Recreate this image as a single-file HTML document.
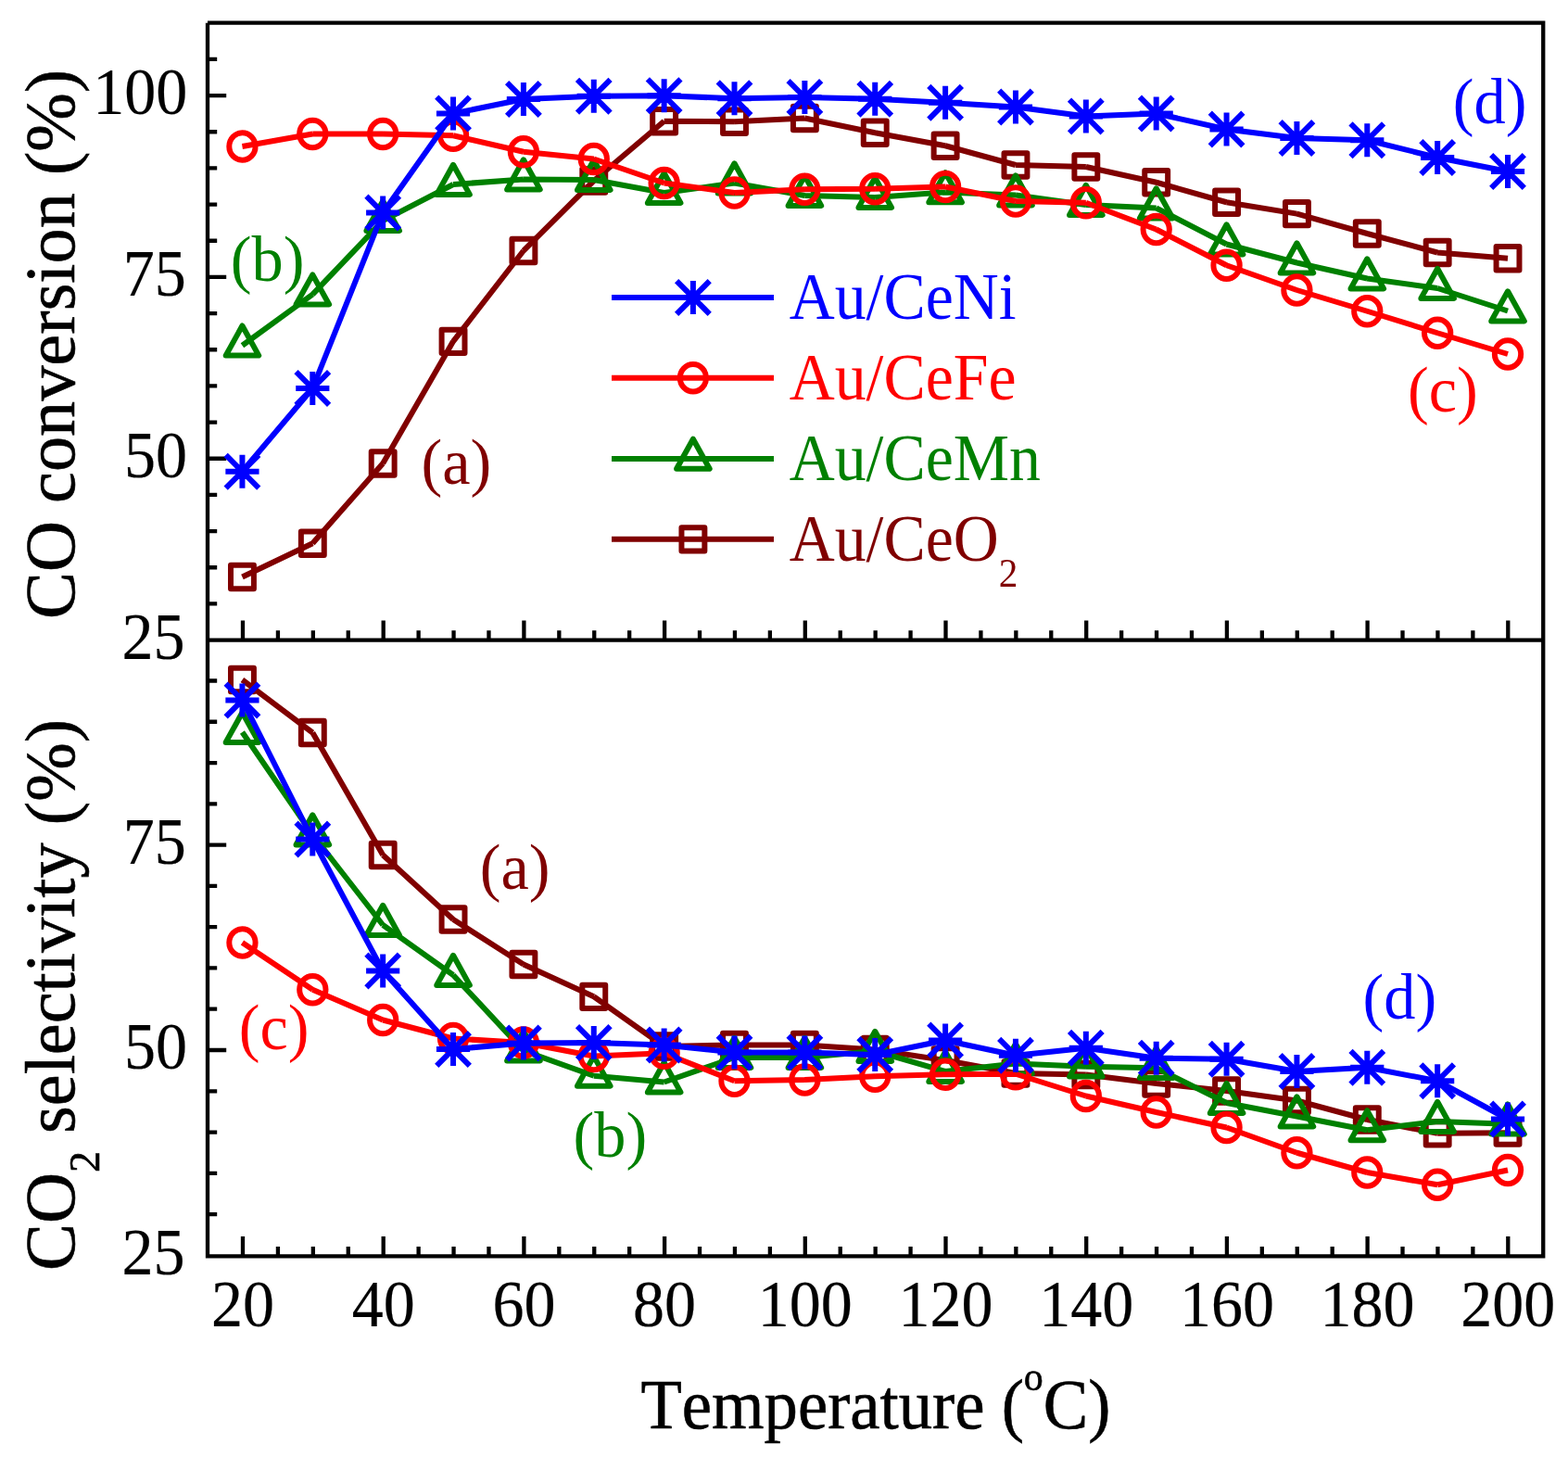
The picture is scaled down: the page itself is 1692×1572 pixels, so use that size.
<!DOCTYPE html>
<html lang="en"><head><meta charset="utf-8"><title>CO conversion and CO2 selectivity vs temperature</title>
<style>html,body{margin:0;padding:0;background:#fff}body{width:1692px;height:1572px;overflow:hidden}svg{display:block}</style>
</head><body>
<svg width="1692" height="1572" viewBox="0 0 1692 1572" font-family="'Liberation Serif', serif" style="font-kerning:none;font-variant-ligatures:none">
<rect width="1692" height="1572" fill="#fff"/>
<g stroke="#000" stroke-width="4.3" fill="none">
<path d="M224.0 24.7V1357.45M1665.25 22.55V1357.45M224.0 24.7H1665.25M224.0 690.6H1665.25M224.0 1355.3H1667.4"/>
<path d="M262 690.6v-21.2M262 1355.3v-21.2M299.93 690.6v-10.4M299.93 1355.3v-10.4M337.85 690.6v-10.4M337.85 1355.3v-10.4M375.77 690.6v-10.4M375.77 1355.3v-10.4M413.7 690.6v-21.2M413.7 1355.3v-21.2M451.62 690.6v-10.4M451.62 1355.3v-10.4M489.55 690.6v-10.4M489.55 1355.3v-10.4M527.47 690.6v-10.4M527.47 1355.3v-10.4M565.4 690.6v-21.2M565.4 1355.3v-21.2M603.33 690.6v-10.4M603.33 1355.3v-10.4M641.25 690.6v-10.4M641.25 1355.3v-10.4M679.17 690.6v-10.4M679.17 1355.3v-10.4M717.1 690.6v-21.2M717.1 1355.3v-21.2M755.02 690.6v-10.4M755.02 1355.3v-10.4M792.95 690.6v-10.4M792.95 1355.3v-10.4M830.88 690.6v-10.4M830.88 1355.3v-10.4M868.8 690.6v-21.2M868.8 1355.3v-21.2M906.72 690.6v-10.4M906.72 1355.3v-10.4M944.65 690.6v-10.4M944.65 1355.3v-10.4M982.57 690.6v-10.4M982.57 1355.3v-10.4M1020.5 690.6v-21.2M1020.5 1355.3v-21.2M1058.42 690.6v-10.4M1058.42 1355.3v-10.4M1096.35 690.6v-10.4M1096.35 1355.3v-10.4M1134.28 690.6v-10.4M1134.28 1355.3v-10.4M1172.2 690.6v-21.2M1172.2 1355.3v-21.2M1210.12 690.6v-10.4M1210.12 1355.3v-10.4M1248.05 690.6v-10.4M1248.05 1355.3v-10.4M1285.97 690.6v-10.4M1285.97 1355.3v-10.4M1323.9 690.6v-21.2M1323.9 1355.3v-21.2M1361.82 690.6v-10.4M1361.82 1355.3v-10.4M1399.75 690.6v-10.4M1399.75 1355.3v-10.4M1437.67 690.6v-10.4M1437.67 1355.3v-10.4M1475.6 690.6v-21.2M1475.6 1355.3v-21.2M1513.52 690.6v-10.4M1513.52 1355.3v-10.4M1551.45 690.6v-10.4M1551.45 1355.3v-10.4M1589.38 690.6v-10.4M1589.38 1355.3v-10.4M1627.3 690.6v-21.2M1627.3 1355.3v-21.2"/>
<path d="M224.0 63.93h10.2M224.0 103.1h20.2M224.0 142.27h10.2M224.0 181.43h10.2M224.0 220.6h10.2M224.0 259.77h10.2M224.0 298.93h20.2M224.0 338.1h10.2M224.0 377.27h10.2M224.0 416.43h10.2M224.0 455.6h10.2M224.0 494.77h20.2M224.0 533.93h10.2M224.0 573.1h10.2M224.0 612.27h10.2M224.0 651.43h10.2M224.0 1310.12h10.2M224.0 1265.84h10.2M224.0 1221.56h10.2M224.0 1177.28h10.2M224.0 1133h20.2M224.0 1088.72h10.2M224.0 1044.44h10.2M224.0 1000.16h10.2M224.0 955.88h10.2M224.0 911.6h20.2M224.0 867.32h10.2M224.0 823.04h10.2M224.0 778.76h10.2M224.0 734.48h10.2"/>
</g>
<g fill="none" stroke="#800000" stroke-width="6.0" stroke-linejoin="round">
<path d="M261.45 622.5L337.31 586.25M337.31 586.25L413.18 500M413.18 500L489.04 368.3M489.04 368.3L564.91 270.5M564.91 270.5L640.77 195M640.77 195L716.64 130.75M716.64 130.75L792.5 131.25M792.5 131.25L868.37 127.5M868.37 127.5L944.23 143.25M944.23 143.25L1020.1 157.25M1020.1 157.25L1095.96 178M1095.96 178L1171.83 180M1171.83 180L1247.69 196.75M1247.69 196.75L1323.56 218.25M1323.56 218.25L1399.42 230.6M1399.42 230.6L1475.29 252M1475.29 252L1551.15 272.5M1551.15 272.5L1627.02 278.75"/>
<path d="M249 609.85H273.9V635.15H249ZM324.87 573.6H349.76V598.9H324.87ZM400.73 487.35H425.63V512.65H400.73ZM476.59 355.65H501.49V380.95H476.59ZM552.46 257.85H577.36V283.15H552.46ZM628.32 182.35H653.23V207.65H628.32ZM704.19 118.1H729.09V143.4H704.19ZM780.05 118.6H804.95V143.9H780.05ZM855.92 114.85H880.82V140.15H855.92ZM931.78 130.6H956.68V155.9H931.78ZM1007.65 144.6H1032.55V169.9H1007.65ZM1083.51 165.35H1108.41V190.65H1083.51ZM1159.38 167.35H1184.28V192.65H1159.38ZM1235.24 184.1H1260.14V209.4H1235.24ZM1311.11 205.6H1336.01V230.9H1311.11ZM1386.97 217.95H1411.88V243.25H1386.97ZM1462.84 239.35H1487.74V264.65H1462.84ZM1538.7 259.85H1563.61V285.15H1538.7ZM1614.57 266.1H1639.47V291.4H1614.57Z"/>
</g>
<g fill="none" stroke="#008000" stroke-width="6.0" stroke-linejoin="round">
<path d="M261.45 372.7L337.31 317.6M337.31 317.6L413.18 238.1M413.18 238.1L489.04 199M489.04 199L564.91 193.5M564.91 193.5L640.77 194M640.77 194L716.64 208M716.64 208L792.5 197.5M792.5 197.5L868.37 211M868.37 211L944.23 213M944.23 213L1020.1 207.4M1020.1 207.4L1095.96 210.5M1095.96 210.5L1171.83 221M1171.83 221L1247.69 224.5M1247.69 224.5L1323.56 263.5M1323.56 263.5L1399.42 283.5M1399.42 283.5L1475.29 300.5M1475.29 300.5L1551.15 311M1551.15 311L1627.02 335.5"/>
<path d="M243.65 383.6L261.45 351.5L279.25 383.6ZM319.51 328.5L337.31 296.4L355.12 328.5ZM395.38 249L413.18 216.9L430.98 249ZM471.24 209.9L489.04 177.8L506.84 209.9ZM547.11 204.4L564.91 172.3L582.71 204.4ZM622.98 204.9L640.77 172.8L658.57 204.9ZM698.84 218.9L716.64 186.8L734.44 218.9ZM774.7 208.4L792.5 176.3L810.3 208.4ZM850.57 221.9L868.37 189.8L886.17 221.9ZM926.43 223.9L944.23 191.8L962.03 223.9ZM1002.3 218.3L1020.1 186.2L1037.9 218.3ZM1078.16 221.4L1095.96 189.3L1113.76 221.4ZM1154.03 231.9L1171.83 199.8L1189.63 231.9ZM1229.89 235.4L1247.69 203.3L1265.49 235.4ZM1305.76 274.4L1323.56 242.3L1341.36 274.4ZM1381.62 294.4L1399.42 262.3L1417.22 294.4ZM1457.49 311.4L1475.29 279.3L1493.09 311.4ZM1533.36 321.9L1551.15 289.8L1568.95 321.9ZM1609.22 346.4L1627.02 314.3L1644.82 346.4Z"/>
</g>
<g fill="none" stroke="#ff0000" stroke-width="6.0" stroke-linejoin="round">
<path d="M261.45 158L337.31 144.5M337.31 144.5L413.18 144.5M413.18 144.5L489.04 146.25M489.04 146.25L564.91 163.75M564.91 163.75L640.77 171.5M640.77 171.5L716.64 197.5M716.64 197.5L792.5 208M792.5 208L868.37 204.25M868.37 204.25L944.23 203.75M944.23 203.75L1020.1 201.5M1020.1 201.5L1095.96 217M1095.96 217L1171.83 218.75M1171.83 218.75L1247.69 247.5M1247.69 247.5L1323.56 286.25M1323.56 286.25L1399.42 313M1399.42 313L1475.29 335.75M1475.29 335.75L1551.15 359.25M1551.15 359.25L1627.02 382"/>
<path d="M247.3 158a14.15 14.7 0 1 0 28.3 0a14.15 14.7 0 1 0 -28.3 0ZM323.17 144.5a14.15 14.7 0 1 0 28.3 0a14.15 14.7 0 1 0 -28.3 0ZM399.03 144.5a14.15 14.7 0 1 0 28.3 0a14.15 14.7 0 1 0 -28.3 0ZM474.89 146.25a14.15 14.7 0 1 0 28.3 0a14.15 14.7 0 1 0 -28.3 0ZM550.76 163.75a14.15 14.7 0 1 0 28.3 0a14.15 14.7 0 1 0 -28.3 0ZM626.62 171.5a14.15 14.7 0 1 0 28.3 0a14.15 14.7 0 1 0 -28.3 0ZM702.49 197.5a14.15 14.7 0 1 0 28.3 0a14.15 14.7 0 1 0 -28.3 0ZM778.35 208a14.15 14.7 0 1 0 28.3 0a14.15 14.7 0 1 0 -28.3 0ZM854.22 204.25a14.15 14.7 0 1 0 28.3 0a14.15 14.7 0 1 0 -28.3 0ZM930.08 203.75a14.15 14.7 0 1 0 28.3 0a14.15 14.7 0 1 0 -28.3 0ZM1005.95 201.5a14.15 14.7 0 1 0 28.3 0a14.15 14.7 0 1 0 -28.3 0ZM1081.81 217a14.15 14.7 0 1 0 28.3 0a14.15 14.7 0 1 0 -28.3 0ZM1157.68 218.75a14.15 14.7 0 1 0 28.3 0a14.15 14.7 0 1 0 -28.3 0ZM1233.54 247.5a14.15 14.7 0 1 0 28.3 0a14.15 14.7 0 1 0 -28.3 0ZM1309.41 286.25a14.15 14.7 0 1 0 28.3 0a14.15 14.7 0 1 0 -28.3 0ZM1385.27 313a14.15 14.7 0 1 0 28.3 0a14.15 14.7 0 1 0 -28.3 0ZM1461.14 335.75a14.15 14.7 0 1 0 28.3 0a14.15 14.7 0 1 0 -28.3 0ZM1537 359.25a14.15 14.7 0 1 0 28.3 0a14.15 14.7 0 1 0 -28.3 0ZM1612.87 382a14.15 14.7 0 1 0 28.3 0a14.15 14.7 0 1 0 -28.3 0Z"/>
</g>
<g fill="none" stroke="#0000ff" stroke-width="6.0" stroke-linejoin="round">
<path d="M261.45 508.75L337.31 419M337.31 419L413.18 229.5M413.18 229.5L489.04 122.5M489.04 122.5L564.91 107M564.91 107L640.77 103.75M640.77 103.75L716.64 103.25M716.64 103.25L792.5 106.25M792.5 106.25L868.37 105M868.37 105L944.23 106.75M944.23 106.75L1020.1 110.75M1020.1 110.75L1095.96 115.5M1095.96 115.5L1171.83 125.5M1171.83 125.5L1247.69 122.5M1247.69 122.5L1323.56 139.5M1323.56 139.5L1399.42 149M1399.42 149L1475.29 151.25M1475.29 151.25L1551.15 170M1551.15 170L1627.02 185"/>
<path d="M243.35 508.75H279.55M261.45 490.65V526.85M243.65 490.95L279.25 526.55M243.65 526.55L279.25 490.95M319.21 419H355.42M337.31 400.9V437.1M319.51 401.2L355.12 436.8M319.51 436.8L355.12 401.2M395.08 229.5H431.28M413.18 211.4V247.6M395.38 211.7L430.98 247.3M395.38 247.3L430.98 211.7M470.94 122.5H507.14M489.04 104.4V140.6M471.24 104.7L506.84 140.3M471.24 140.3L506.84 104.7M546.81 107H583.01M564.91 88.9V125.1M547.11 89.2L582.71 124.8M547.11 124.8L582.71 89.2M622.67 103.75H658.88M640.77 85.65V121.85M622.98 85.95L658.57 121.55M622.98 121.55L658.57 85.95M698.54 103.25H734.74M716.64 85.15V121.35M698.84 85.45L734.44 121.05M698.84 121.05L734.44 85.45M774.4 106.25H810.6M792.5 88.15V124.35M774.7 88.45L810.3 124.05M774.7 124.05L810.3 88.45M850.27 105H886.47M868.37 86.9V123.1M850.57 87.2L886.17 122.8M850.57 122.8L886.17 87.2M926.13 106.75H962.33M944.23 88.65V124.85M926.43 88.95L962.03 124.55M926.43 124.55L962.03 88.95M1002 110.75H1038.2M1020.1 92.65V128.85M1002.3 92.95L1037.9 128.55M1002.3 128.55L1037.9 92.95M1077.87 115.5H1114.06M1095.96 97.4V133.6M1078.16 97.7L1113.76 133.3M1078.16 133.3L1113.76 97.7M1153.73 125.5H1189.93M1171.83 107.4V143.6M1154.03 107.7L1189.63 143.3M1154.03 143.3L1189.63 107.7M1229.6 122.5H1265.79M1247.69 104.4V140.6M1229.89 104.7L1265.49 140.3M1229.89 140.3L1265.49 104.7M1305.46 139.5H1341.66M1323.56 121.4V157.6M1305.76 121.7L1341.36 157.3M1305.76 157.3L1341.36 121.7M1381.33 149H1417.52M1399.42 130.9V167.1M1381.62 131.2L1417.22 166.8M1381.62 166.8L1417.22 131.2M1457.19 151.25H1493.39M1475.29 133.15V169.35M1457.49 133.45L1493.09 169.05M1457.49 169.05L1493.09 133.45M1533.06 170H1569.25M1551.15 151.9V188.1M1533.36 152.2L1568.95 187.8M1533.36 187.8L1568.95 152.2M1608.92 185H1645.12M1627.02 166.9V203.1M1609.22 167.2L1644.82 202.8M1609.22 202.8L1644.82 167.2"/>
</g>
<g fill="none" stroke="#800000" stroke-width="6.0" stroke-linejoin="round">
<path d="M261.45 733.5L337.31 790.5M337.31 790.5L413.18 922.5M413.18 922.5L489.04 992M489.04 992L564.91 1040.5M564.91 1040.5L640.77 1075.3M640.77 1075.3L716.64 1129M716.64 1129L792.5 1127.5M792.5 1127.5L868.37 1127.5M868.37 1127.5L944.23 1132.5M944.23 1132.5L1020.1 1144M1020.1 1144L1095.96 1158M1095.96 1158L1171.83 1159.5M1171.83 1159.5L1247.69 1169M1247.69 1169L1323.56 1177M1323.56 1177L1399.42 1187.5M1399.42 1187.5L1475.29 1208M1475.29 1208L1551.15 1222.8M1551.15 1222.8L1627.02 1222.2"/>
<path d="M249 720.85H273.9V746.15H249ZM324.87 777.85H349.76V803.15H324.87ZM400.73 909.85H425.63V935.15H400.73ZM476.59 979.35H501.49V1004.65H476.59ZM552.46 1027.85H577.36V1053.15H552.46ZM628.32 1062.65H653.23V1087.95H628.32ZM704.19 1116.35H729.09V1141.65H704.19ZM780.05 1114.85H804.95V1140.15H780.05ZM855.92 1114.85H880.82V1140.15H855.92ZM931.78 1119.85H956.68V1145.15H931.78ZM1007.65 1131.35H1032.55V1156.65H1007.65ZM1083.51 1145.35H1108.41V1170.65H1083.51ZM1159.38 1146.85H1184.28V1172.15H1159.38ZM1235.24 1156.35H1260.14V1181.65H1235.24ZM1311.11 1164.35H1336.01V1189.65H1311.11ZM1386.97 1174.85H1411.88V1200.15H1386.97ZM1462.84 1195.35H1487.74V1220.65H1462.84ZM1538.7 1210.15H1563.61V1235.45H1538.7ZM1614.57 1209.55H1639.47V1234.85H1614.57Z"/>
</g>
<g fill="none" stroke="#008000" stroke-width="6.0" stroke-linejoin="round">
<path d="M261.45 790L337.31 900.5M337.31 900.5L413.18 998M413.18 998L489.04 1052M489.04 1052L564.91 1133.6M564.91 1133.6L640.77 1160.8M640.77 1160.8L716.64 1167.5M716.64 1167.5L792.5 1141M792.5 1141L868.37 1141M868.37 1141L944.23 1134M944.23 1134L1020.1 1156M1020.1 1156L1095.96 1147.5M1095.96 1147.5L1171.83 1150.7M1171.83 1150.7L1247.69 1152.2M1247.69 1152.2L1323.56 1190M1323.56 1190L1399.42 1204.5M1399.42 1204.5L1475.29 1219.3M1475.29 1219.3L1551.15 1210M1551.15 1210L1627.02 1212.7"/>
<path d="M243.65 800.9L261.45 768.8L279.25 800.9ZM319.51 911.4L337.31 879.3L355.12 911.4ZM395.38 1008.9L413.18 976.8L430.98 1008.9ZM471.24 1062.9L489.04 1030.8L506.84 1062.9ZM547.11 1144.5L564.91 1112.4L582.71 1144.5ZM622.98 1171.7L640.77 1139.6L658.57 1171.7ZM698.84 1178.4L716.64 1146.3L734.44 1178.4ZM774.7 1151.9L792.5 1119.8L810.3 1151.9ZM850.57 1151.9L868.37 1119.8L886.17 1151.9ZM926.43 1144.9L944.23 1112.8L962.03 1144.9ZM1002.3 1166.9L1020.1 1134.8L1037.9 1166.9ZM1078.16 1158.4L1095.96 1126.3L1113.76 1158.4ZM1154.03 1161.6L1171.83 1129.5L1189.63 1161.6ZM1229.89 1163.1L1247.69 1131L1265.49 1163.1ZM1305.76 1200.9L1323.56 1168.8L1341.36 1200.9ZM1381.62 1215.4L1399.42 1183.3L1417.22 1215.4ZM1457.49 1230.2L1475.29 1198.1L1493.09 1230.2ZM1533.36 1220.9L1551.15 1188.8L1568.95 1220.9ZM1609.22 1223.6L1627.02 1191.5L1644.82 1223.6Z"/>
</g>
<g fill="none" stroke="#ff0000" stroke-width="6.0" stroke-linejoin="round">
<path d="M261.45 1017L337.31 1067.7M337.31 1067.7L413.18 1100.5M413.18 1100.5L489.04 1120.5M489.04 1120.5L564.91 1125M564.91 1125L640.77 1139.5M640.77 1139.5L716.64 1136.25M716.64 1136.25L792.5 1166.25M792.5 1166.25L868.37 1165M868.37 1165L944.23 1161.25M944.23 1161.25L1020.1 1159.25M1020.1 1159.25L1095.96 1158.75M1095.96 1158.75L1171.83 1182.5M1171.83 1182.5L1247.69 1200M1247.69 1200L1323.56 1216.5M1323.56 1216.5L1399.42 1243.75M1399.42 1243.75L1475.29 1265M1475.29 1265L1551.15 1278.25M1551.15 1278.25L1627.02 1262.5"/>
<path d="M247.3 1017a14.15 14.7 0 1 0 28.3 0a14.15 14.7 0 1 0 -28.3 0ZM323.17 1067.7a14.15 14.7 0 1 0 28.3 0a14.15 14.7 0 1 0 -28.3 0ZM399.03 1100.5a14.15 14.7 0 1 0 28.3 0a14.15 14.7 0 1 0 -28.3 0ZM474.89 1120.5a14.15 14.7 0 1 0 28.3 0a14.15 14.7 0 1 0 -28.3 0ZM550.76 1125a14.15 14.7 0 1 0 28.3 0a14.15 14.7 0 1 0 -28.3 0ZM626.62 1139.5a14.15 14.7 0 1 0 28.3 0a14.15 14.7 0 1 0 -28.3 0ZM702.49 1136.25a14.15 14.7 0 1 0 28.3 0a14.15 14.7 0 1 0 -28.3 0ZM778.35 1166.25a14.15 14.7 0 1 0 28.3 0a14.15 14.7 0 1 0 -28.3 0ZM854.22 1165a14.15 14.7 0 1 0 28.3 0a14.15 14.7 0 1 0 -28.3 0ZM930.08 1161.25a14.15 14.7 0 1 0 28.3 0a14.15 14.7 0 1 0 -28.3 0ZM1005.95 1159.25a14.15 14.7 0 1 0 28.3 0a14.15 14.7 0 1 0 -28.3 0ZM1081.81 1158.75a14.15 14.7 0 1 0 28.3 0a14.15 14.7 0 1 0 -28.3 0ZM1157.68 1182.5a14.15 14.7 0 1 0 28.3 0a14.15 14.7 0 1 0 -28.3 0ZM1233.54 1200a14.15 14.7 0 1 0 28.3 0a14.15 14.7 0 1 0 -28.3 0ZM1309.41 1216.5a14.15 14.7 0 1 0 28.3 0a14.15 14.7 0 1 0 -28.3 0ZM1385.27 1243.75a14.15 14.7 0 1 0 28.3 0a14.15 14.7 0 1 0 -28.3 0ZM1461.14 1265a14.15 14.7 0 1 0 28.3 0a14.15 14.7 0 1 0 -28.3 0ZM1537 1278.25a14.15 14.7 0 1 0 28.3 0a14.15 14.7 0 1 0 -28.3 0ZM1612.87 1262.5a14.15 14.7 0 1 0 28.3 0a14.15 14.7 0 1 0 -28.3 0Z"/>
</g>
<g fill="none" stroke="#0000ff" stroke-width="6.0" stroke-linejoin="round">
<path d="M261.45 755.5L337.31 905.5M337.31 905.5L413.18 1047.5M413.18 1047.5L489.04 1132M489.04 1132L564.91 1125.5M564.91 1125.5L640.77 1125M640.77 1125L716.64 1127.5M716.64 1127.5L792.5 1135.5M792.5 1135.5L868.37 1135.5M868.37 1135.5L944.23 1138M944.23 1138L1020.1 1122.5M1020.1 1122.5L1095.96 1138.75M1095.96 1138.75L1171.83 1130.75M1171.83 1130.75L1247.69 1141.75M1247.69 1141.75L1323.56 1142.75M1323.56 1142.75L1399.42 1156M1399.42 1156L1475.29 1151.75M1475.29 1151.75L1551.15 1166.25M1551.15 1166.25L1627.02 1207.5"/>
<path d="M243.35 755.5H279.55M261.45 737.4V773.6M243.65 737.7L279.25 773.3M243.65 773.3L279.25 737.7M319.21 905.5H355.42M337.31 887.4V923.6M319.51 887.7L355.12 923.3M319.51 923.3L355.12 887.7M395.08 1047.5H431.28M413.18 1029.4V1065.6M395.38 1029.7L430.98 1065.3M395.38 1065.3L430.98 1029.7M470.94 1132H507.14M489.04 1113.9V1150.1M471.24 1114.2L506.84 1149.8M471.24 1149.8L506.84 1114.2M546.81 1125.5H583.01M564.91 1107.4V1143.6M547.11 1107.7L582.71 1143.3M547.11 1143.3L582.71 1107.7M622.67 1125H658.88M640.77 1106.9V1143.1M622.98 1107.2L658.57 1142.8M622.98 1142.8L658.57 1107.2M698.54 1127.5H734.74M716.64 1109.4V1145.6M698.84 1109.7L734.44 1145.3M698.84 1145.3L734.44 1109.7M774.4 1135.5H810.6M792.5 1117.4V1153.6M774.7 1117.7L810.3 1153.3M774.7 1153.3L810.3 1117.7M850.27 1135.5H886.47M868.37 1117.4V1153.6M850.57 1117.7L886.17 1153.3M850.57 1153.3L886.17 1117.7M926.13 1138H962.33M944.23 1119.9V1156.1M926.43 1120.2L962.03 1155.8M926.43 1155.8L962.03 1120.2M1002 1122.5H1038.2M1020.1 1104.4V1140.6M1002.3 1104.7L1037.9 1140.3M1002.3 1140.3L1037.9 1104.7M1077.87 1138.75H1114.06M1095.96 1120.65V1156.85M1078.16 1120.95L1113.76 1156.55M1078.16 1156.55L1113.76 1120.95M1153.73 1130.75H1189.93M1171.83 1112.65V1148.85M1154.03 1112.95L1189.63 1148.55M1154.03 1148.55L1189.63 1112.95M1229.6 1141.75H1265.79M1247.69 1123.65V1159.85M1229.89 1123.95L1265.49 1159.55M1229.89 1159.55L1265.49 1123.95M1305.46 1142.75H1341.66M1323.56 1124.65V1160.85M1305.76 1124.95L1341.36 1160.55M1305.76 1160.55L1341.36 1124.95M1381.33 1156H1417.52M1399.42 1137.9V1174.1M1381.62 1138.2L1417.22 1173.8M1381.62 1173.8L1417.22 1138.2M1457.19 1151.75H1493.39M1475.29 1133.65V1169.85M1457.49 1133.95L1493.09 1169.55M1457.49 1169.55L1493.09 1133.95M1533.06 1166.25H1569.25M1551.15 1148.15V1184.35M1533.36 1148.45L1568.95 1184.05M1533.36 1184.05L1568.95 1148.45M1608.92 1207.5H1645.12M1627.02 1189.4V1225.6M1609.22 1189.7L1644.82 1225.3M1609.22 1225.3L1644.82 1189.7"/>
</g>
<path d="M660 321.0H835M729.8 321H766M747.9 302.9V339.1M730.1 303.2L765.7 338.8M730.1 338.8L765.7 303.2" stroke="#0000ff" stroke-width="6.0" fill="none" stroke-linejoin="round"/>
<text transform="translate(851.7 343.7) scale(0.938 1)" font-size="72.3" fill="#0000ff">Au/CeNi</text>
<path d="M660 407.8H835M733.75 407.8a14.15 14.7 0 1 0 28.3 0a14.15 14.7 0 1 0 -28.3 0Z" stroke="#ff0000" stroke-width="6.0" fill="none" stroke-linejoin="round"/>
<text transform="translate(851.7 430.8) scale(0.938 1)" font-size="72.3" fill="#ff0000">Au/CeFe</text>
<path d="M660 494.9H835M730.1 505.8L747.9 473.7L765.7 505.8Z" stroke="#008000" stroke-width="6.0" fill="none" stroke-linejoin="round"/>
<text transform="translate(851.7 517.9) scale(0.938 1)" font-size="72.3" fill="#008000">Au/CeMn</text>
<path d="M660 581.8H835M735.45 569.15H760.35V594.45H735.45Z" stroke="#800000" stroke-width="6.0" fill="none" stroke-linejoin="round"/>
<text transform="translate(851.7 605) scale(0.938 1)" font-size="72.3" fill="#800000">Au/CeO<tspan font-size="44" dy="27.5">2</tspan></text>
<text transform="translate(454.5 521.8) scale(0.972 1)" font-size="70.3" fill="#800000">(a)</text>
<text transform="translate(248.8 302.8) scale(0.972 1)" font-size="70.3" fill="#008000">(b)</text>
<text transform="translate(1519 444) scale(0.972 1)" font-size="70.3" fill="#ff0000">(c)</text>
<text transform="translate(1567.85 132.7) scale(0.972 1)" font-size="70.3" fill="#0000ff">(d)</text>
<text transform="translate(517.7 958.7) scale(0.972 1)" font-size="70.3" fill="#800000">(a)</text>
<text transform="translate(618.55 1248.05) scale(0.972 1)" font-size="70.3" fill="#008000">(b)</text>
<text transform="translate(257.7 1132.4) scale(0.972 1)" font-size="70.3" fill="#ff0000">(c)</text>
<text transform="translate(1470.6 1098.7) scale(0.972 1)" font-size="70.3" fill="#0000ff">(d)</text>
<text transform="translate(202.3 123.1) scale(0.937 1)" font-size="72.6" fill="#000" text-anchor="end" stroke="#000" stroke-width="0.2">100</text>
<text transform="translate(200.8 318.9) scale(0.937 1)" font-size="72.6" fill="#000" text-anchor="end" stroke="#000" stroke-width="0.2">75</text>
<text transform="translate(201.9 514.7) scale(0.937 1)" font-size="72.6" fill="#000" text-anchor="end" stroke="#000" stroke-width="0.2">50</text>
<text transform="translate(199.6 710.5) scale(0.937 1)" font-size="72.6" fill="#000" text-anchor="end" stroke="#000" stroke-width="0.2">25</text>
<text transform="translate(200.8 931.6) scale(0.937 1)" font-size="72.6" fill="#000" text-anchor="end" stroke="#000" stroke-width="0.2">75</text>
<text transform="translate(201.9 1153) scale(0.937 1)" font-size="72.6" fill="#000" text-anchor="end" stroke="#000" stroke-width="0.2">50</text>
<text transform="translate(199.6 1375.2) scale(0.937 1)" font-size="72.6" fill="#000" text-anchor="end" stroke="#000" stroke-width="0.2">25</text>
<text transform="translate(262 1431) scale(0.937 1)" font-size="72.6" fill="#000" text-anchor="middle" stroke="#000" stroke-width="0.2">20</text>
<text transform="translate(413.7 1431) scale(0.937 1)" font-size="72.6" fill="#000" text-anchor="middle" stroke="#000" stroke-width="0.2">40</text>
<text transform="translate(565.4 1431) scale(0.937 1)" font-size="72.6" fill="#000" text-anchor="middle" stroke="#000" stroke-width="0.2">60</text>
<text transform="translate(717.1 1431) scale(0.937 1)" font-size="72.6" fill="#000" text-anchor="middle" stroke="#000" stroke-width="0.2">80</text>
<text transform="translate(868.8 1431) scale(0.937 1)" font-size="72.6" fill="#000" text-anchor="middle" stroke="#000" stroke-width="0.2">100</text>
<text transform="translate(1020.5 1431) scale(0.937 1)" font-size="72.6" fill="#000" text-anchor="middle" stroke="#000" stroke-width="0.2">120</text>
<text transform="translate(1172.2 1431) scale(0.937 1)" font-size="72.6" fill="#000" text-anchor="middle" stroke="#000" stroke-width="0.2">140</text>
<text transform="translate(1323.9 1431) scale(0.937 1)" font-size="72.6" fill="#000" text-anchor="middle" stroke="#000" stroke-width="0.2">160</text>
<text transform="translate(1475.6 1431) scale(0.937 1)" font-size="72.6" fill="#000" text-anchor="middle" stroke="#000" stroke-width="0.2">180</text>
<text transform="translate(1627.3 1431) scale(0.937 1)" font-size="72.6" fill="#000" text-anchor="middle" stroke="#000" stroke-width="0.2">200</text>
<text transform="translate(691.5 1541.1) scale(0.952 1)" font-size="76.3" fill="#000" stroke="#000" stroke-width="0.6">Temperature (<tspan font-size="44" dy="-41">o</tspan><tspan dy="41">C)</tspan></text>
<text transform="translate(80.3 668) rotate(-90)" font-size="76.3" fill="#000" stroke="#000" stroke-width="0.6">CO conversion (%)</text>
<text transform="translate(80.3 1371) rotate(-90)" font-size="76.3" fill="#000" stroke="#000" stroke-width="0.6">CO<tspan font-size="46" dy="27">2</tspan><tspan dy="-27"> selectivity (%)</tspan></text>
</svg>
</body></html>
